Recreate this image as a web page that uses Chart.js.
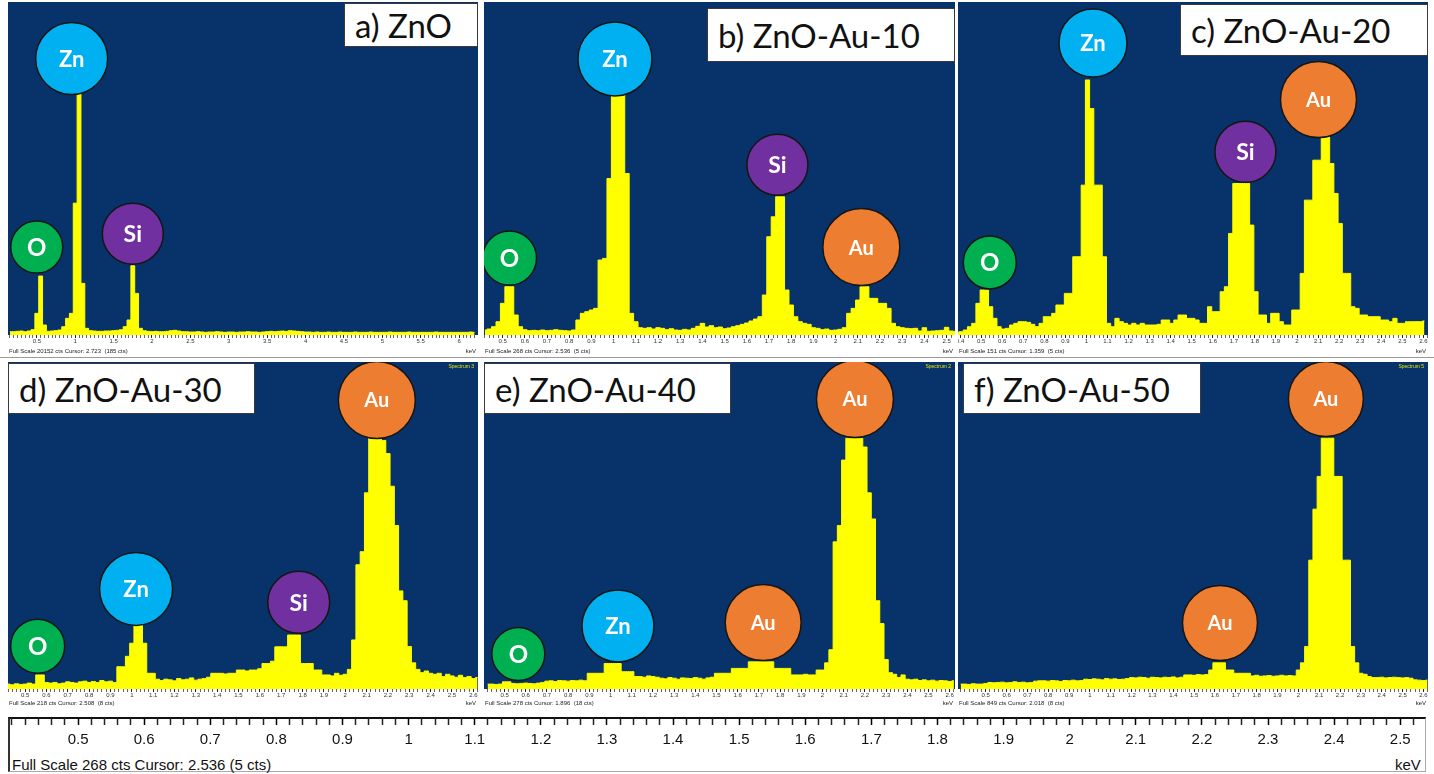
<!DOCTYPE html>
<html>
<head>
<meta charset="utf-8">
<title>EDS spectra of ZnO and ZnO-Au samples</title>
<script src="https://cdn.jsdelivr.net/npm/chart.js@4.4.1/dist/chart.umd.min.js"></script>
<style>
  html, body { margin: 0; padding: 0; background: #fff; }
  #stage { position: relative; width: 1434px; height: 774px; overflow: hidden; background: #fff;
           font-family: "Liberation Sans", Arial, sans-serif; }
  #stage canvas { position: absolute; }
  .title { position: absolute; background: #fff; border: 1px solid #3a3a3a; box-sizing: border-box;
           font-family: Lato, "Open Sans", sans-serif; font-size: 33px; color: #111;
           display: flex; align-items: center; padding-left: 10px; white-space: nowrap; }
  .rule { position: absolute; left: 0; width: 1434px; height: 1px; background: #9a9a9a; }
  .strip { position: absolute; left: 8px; top: 717px; width: 1418px; height: 55px; box-sizing: border-box;
           border-top: 2px solid #111; border-left: 2px solid #333; border-right: 1px solid #aaa; border-bottom: 1px solid #aaa; }
  .stripText { position: absolute; font-size: 15px; color: #111; line-height: 1; }
</style>
</head>
<body>
<div id="stage">
  <div class="rule" style="top:357px"></div>
  <div class="strip"></div>
</div>
<script>
// ---- Spectrum data: counts as % of full scale, one value per energy channel ----

// a) ZnO : channels of 0.05 keV, first channel centred at 0.15 keV
const aStart = 0.15, aStep = 0.05;
const aCounts = [
  1.0, 1.0, 1.1, 1.2, 1.0, 1.2, 1.6, 6.5, 17.7, 3.0,
  1.1, 1.2, 1.3, 1.5, 2.5, 5.0, 6.5, 39.6, 72.3, 15.5,
  2.0, 1.3, 1.2, 1.1, 1.1, 1.2, 1.2, 1.3, 1.4, 1.6,
  2.5, 4.5, 20.8, 12.5, 2.0, 1.3, 1.1, 1.0, 1.1, 1.0,
  1.0, 1.1, 1.3, 1.4, 1.2, 1.0, 1.0, 0.9,
  0.9, 1.0, 0.9, 0.8, 0.9, 0.9, 1.0, 0.9, 0.8, 0.9,
  0.9, 0.8, 0.9, 0.9, 1.0, 0.9, 0.9, 0.8, 0.9, 1.0,
  1.1, 1.0, 1.1, 1.2, 1.1, 1.3, 1.2, 1.1, 1.0, 0.9,
  0.9, 0.8, 0.9, 0.8, 0.8, 0.9, 0.8, 0.8, 0.9, 0.8,
  0.8, 0.8, 0.9, 0.8, 0.8, 0.8, 0.9, 0.8, 0.8, 0.8,
  0.8, 0.9, 0.8, 0.8, 0.8, 0.8, 0.9, 0.8, 0.8, 0.8,
  0.8, 0.8, 0.8, 0.9, 0.8, 0.8, 0.8, 0.8, 0.8, 0.8,
  0.8, 0.8, 0.9, 0.8
];

// b) ZnO-Au-10 : channels of 0.02 keV from 0.42 keV
const bStart = 0.42, bStep = 0.02;
const bCounts = [
  1.5, 1.8, 2.5, 4, 9.5, 14.5, 14.5, 6, 2.5, 1.6,
  1.3, 1.4, 1.3, 1.5, 1.3, 1.4, 1.6, 1.4, 1.3, 1.2,
  1.5, 4.5, 6.5, 7, 7.5, 8, 22.5, 23, 47, 72.6,
  72.6, 72.6, 48.5, 6.5, 4, 2.2, 2, 2.2, 1.8, 2.2,
  2, 1.6, 1.9, 1.5, 1.4, 1.7, 1.5, 2, 2.6, 3.5,
  2.4, 2.8, 2.2, 2.4, 1.9, 2.1, 2.5, 2.8, 3.2, 3.6,
  4.2, 4.8, 5.5, 12, 29.5, 35.5, 41.5, 41.5, 13.5, 9,
  5.5, 4, 3.5, 3.2, 2.2, 2, 1.6, 1.8, 1.4, 1.5,
  1.7, 2.2, 6.5, 8, 10.5, 14.5, 14.5, 11, 11, 9.5,
  9.5, 8, 3.5, 2.5, 2.2, 2, 1.9, 2, 1.2, 2.2,
  1.1, 1.2, 1.3, 1.4, 2.3, 1.2, 1.1
];

// c) ZnO-Au-20 : channels of 0.02 keV from 0.385 keV
const cStart = 0.385, cStep = 0.02;
const cCounts = [
  0.8, 1, 1.5, 2.5, 3.5, 9.5, 13.5, 13.5, 8.5, 5,
  2.5, 1.8, 2, 3, 3.5, 4, 4, 3.8, 3.2, 2.5,
  3.5, 5.5, 5.5, 6.5, 9, 9, 12.5, 12.5, 23.5, 23.5,
  45, 76.6, 68, 45, 45, 23.5, 3.5, 2.5, 5, 4,
  3.5, 3, 3.5, 3, 3.5, 3, 3, 3, 3.2, 4.5,
  4.5, 3.5, 4.5, 6, 6, 5, 5, 4.5, 3.5, 3.5,
  8.5, 7, 7, 13, 14.5, 30.5, 45.5, 45.5, 45.5, 45.5,
  33, 13, 6, 6, 3.5, 6.5, 6.5, 4, 3, 3,
  7.5, 7.5, 18.5, 40.5, 40.5, 52.5, 52.5, 59.4, 59.4, 51.5,
  42.5, 33.5, 18.5, 18.5, 8.5, 8, 6, 6, 5.5, 5.5,
  5.5, 4.5, 4.5, 4, 5, 3.5, 3.5, 4, 4, 4,
  4, 4.2
];

// d) ZnO-Au-30 : channels of 0.02 keV from 0.42 keV
const dStart = 0.42, dStep = 0.02;
const dCounts = [
  1.5, 1.3, 1.6, 1.4, 1.5, 1.8, 1.5, 4.3, 4.3, 2.0,
  1.8, 2.0, 1.6, 1.8, 2.2, 2.0, 1.8, 2.2, 2.4, 2.0,
  2.3, 2.0, 2.6, 2.2, 2.4, 2.0, 6.8, 6.8, 10, 14,
  19.6, 19.6, 14, 4.8, 4.8, 3.0, 2.6, 3.0, 2.8, 2.5,
  3.2, 2.8, 3.0, 3.4, 2.7, 3.0, 3.2, 3.6, 4.8, 4.8,
  4.8, 4.6, 4.8, 4.8, 5.8, 5.8, 5.5, 5.8, 5.8, 6.2,
  7.8, 7.8, 8.5, 12.9, 12.9, 12.9, 16.5, 16.5, 16.5, 7.8,
  7.8, 7.8, 5.8, 5.8, 4.3, 4.3, 4.0, 4.8, 4.2, 4.5,
  6, 15, 38, 42, 60, 76.7, 76.7, 76.7, 76, 72,
  62, 50, 30, 27, 13, 8, 6, 5, 5.5, 4.8,
  4.5, 4.8, 3.8, 4.5, 4.0, 3.6, 4.2, 3.5, 3.8, 3.2,
  3.5
];

// e) ZnO-Au-40 : channels of 0.02 keV from 0.42 keV
const eStart = 0.42, eStep = 0.02;
const eCounts = [
  1.5, 1.5, 1.4, 1.5, 2.2, 2.2, 1.7, 1.6, 1.7, 1.8,
  1.7, 1.6, 1.8, 2.0, 2.4, 2.5, 2.3, 2.6, 2.5, 2.4,
  2.6, 2.5, 2.7, 2.5, 4.8, 4.8, 4.8, 4.8, 7.8, 7.8,
  7.8, 7.8, 5.3, 5.3, 5.3, 3.8, 3.8, 3.6, 4.0, 3.8,
  3.6, 3.3, 3.1, 3.5, 3.3, 3.0, 3.4, 3.3, 3.2, 3.5,
  3.3, 3.0, 3.4, 3.6, 4.8, 4.8, 4.8, 4.8, 6.3, 6.3,
  6.3, 6.3, 8.3, 8.3, 8.3, 8.3, 8.3, 8.3, 6.3, 6.3,
  6.3, 6.3, 4.3, 4.3, 4.3, 4.5, 4.3, 4.3, 5.8, 5.8,
  8, 12, 45, 50, 70, 76.7, 76.7, 76.7, 76.7, 74,
  60, 52, 27, 20, 9, 5, 4.5, 3.5, 4.3, 3.0,
  2.8, 3.0, 2.6, 2.8, 2.5, 2.7, 2.4, 2.6, 2.5, 2.3,
  2.5
];

// f) ZnO-Au-50 : channels of 0.02 keV from 0.38 keV
const fStart = 0.38, fStep = 0.02;
const fCounts = [
  1.5, 1.5, 1.4, 1.6, 1.5, 1.5, 1.7, 2.0, 1.9, 2.0,
  2.1, 1.9, 2.0, 2.2, 2.0, 2.1, 1.9, 2.0, 2.4, 2.5,
  2.5, 2.4, 2.6, 2.5, 2.3, 2.6, 2.5, 2.7, 2.5, 2.6,
  3.0, 2.9, 3.1, 3.0, 2.8, 3.2, 3.0, 3.1, 2.9, 3.0,
  3.2, 3.5, 3.4, 3.6, 3.5, 3.3, 3.6, 3.5, 3.4, 3.6,
  3.5, 3.7, 3.4, 3.6, 4.3, 4.3, 4.2, 4.4, 4.3, 4.4,
  5.8, 8, 8, 8, 5.8, 5.8, 4.8, 4.8, 4.8, 4.8,
  4.0, 4.2, 3.9, 4.0, 4.1, 3.9, 4.0, 4.2, 4.0, 4.1,
  4.0, 5.8, 8, 13, 39.4, 55, 65, 76.7, 76.7, 76.7,
  65, 65, 39.4, 39.4, 13, 8, 4.8, 4.5, 3.8, 3.5,
  3.5, 3.6, 3.4, 3.5, 3.6, 3.5, 3.4, 3.5, 3.3, 2.8,
  2.7, 2.6, 2.7
];

// ---- Peak identification tags: element, energy (keV), height (% of full scale) ----
const aTags = ['O', 'Zn', 'Si'];        const aTagE = [0.499, 0.954, 1.750];        const aTagC = [26.4, 83.0, 30.4];
const bTags = ['O', 'Zn', 'Si', 'Au'];  const bTagE = [0.531, 1.006, 1.738, 2.116]; const bTagC = [23.1, 82.9, 51.1, 26.4];
const cTags = ['O', 'Zn', 'Si', 'Au'];  const cTagE = [0.541, 1.031, 1.755, 2.102]; const cTagC = [21.8, 87.7, 55.0, 70.7];
const dTags = ['O', 'Zn', 'Si', 'Au'];  const dTagE = [0.559, 1.020, 1.782, 2.148]; const dTagC = [13.1, 30.6, 26.5, 88.4];
const eTags = ['O', 'Zn', 'Au', 'Au'];  const eTagE = [0.565, 1.035, 1.720, 2.153]; const eTagC = [10.7, 19.3, 20.3, 88.7];
const fTags = ['Au', 'Au'];             const fTagE = [1.624, 2.132];               const fTagC = [20.2, 88.7];

// ---- Axis tick labels (keV) ----
const aTickLabels = [0.5, 1, 1.5, 2, 2.5, 3, 3.5, 4, 4.5, 5, 5.5, 6];
const bTickLabels = [0.5, 0.6, 0.7, 0.8, 0.9, 1, 1.1, 1.2, 1.3, 1.4, 1.5, 1.6, 1.7, 1.8, 1.9, 2, 2.1, 2.2, 2.3, 2.4, 2.5];
const wideTickLabels = [0.4, 0.5, 0.6, 0.7, 0.8, 0.9, 1, 1.1, 1.2, 1.3, 1.4, 1.5, 1.6, 1.7, 1.8, 1.9, 2, 2.1, 2.2, 2.3, 2.4, 2.5, 2.6];
const fTickLabels = [0.5, 0.6, 0.7, 0.8, 0.9, 1, 1.1, 1.2, 1.3, 1.4, 1.5, 1.6, 1.7, 1.8, 1.9, 2, 2.1, 2.2, 2.3, 2.4, 2.5, 2.6];
const stripTickLabels = [0.5, 0.6, 0.7, 0.8, 0.9, 1, 1.1, 1.2, 1.3, 1.4, 1.5, 1.6, 1.7, 1.8, 1.9, 2, 2.1, 2.2, 2.3, 2.4, 2.5];

// ---- Panel texts ----
const titles = ['a) ZnO', 'b) ZnO-Au-10', 'c) ZnO-Au-20', 'd) ZnO-Au-30', 'e) ZnO-Au-40', 'f) ZnO-Au-50'];
const footers = [
  'Full Scale 20152 cts Cursor: 2.723  (185 cts)',
  'Full Scale 268 cts Cursor: 2.536  (5 cts)',
  'Full Scale 151 cts Cursor: 1.359  (5 cts)',
  'Full Scale 218 cts Cursor: 2.508  (8 cts)',
  'Full Scale 278 cts Cursor: 1.896  (18 cts)',
  'Full Scale 849 cts Cursor: 2.018  (8 cts)'
];
const spectrumNames = ['', '', '', 'Spectrum 3', 'Spectrum 2', 'Spectrum 5'];
const stripFooter = 'Full Scale 268 cts Cursor: 2.536  (5 cts)';

// ---- Styling ----
const NAVY = '#08336a';
const YELLOW = '#ffff00';
const TAG_COLORS = { O: '#00b050', Zn: '#00b0f0', Si: '#7030a0', Au: '#ed7d31' };
const TAG_FONT = { O: 24, Zn: 22, Si: 23, Au: 20 };
Chart.defaults.font.family = '"Liberation Sans", Arial, sans-serif';

function tickGrid(min, max, step) {
  const out = [];
  for (let k = Math.ceil(min / step - 1e-9); k * step <= max + 1e-9; k++) out.push(+(k * step).toFixed(4));
  return out;
}
const hasLabel = (list, v) => list.some(l => Math.abs(l - v) < 1e-6);

// Navy plotting field behind the spectrum
const fieldPlugin = {
  id: 'field',
  beforeDraw(chart) {
    const a = chart.chartArea, ctx = chart.ctx;
    ctx.save();
    ctx.fillStyle = NAVY;
    ctx.fillRect(a.left, a.top, a.right - a.left, a.bottom - a.top);
    ctx.restore();
  }
};

// Element symbols written inside the tag circles
const tagTextPlugin = {
  id: 'tagText',
  afterDatasetsDraw(chart) {
    const ds = chart.data.datasets[0];
    if (!ds || !ds.tagNames) return;
    const meta = chart.getDatasetMeta(0), ctx = chart.ctx;
    ctx.save();
    ctx.fillStyle = '#ffffff';
    ctx.textAlign = 'center';
    ctx.textBaseline = 'middle';
    meta.data.forEach((pt, i) => {
      const name = ds.tagNames[i];
      ctx.font = 'bold ' + TAG_FONT[name] + 'px Lato, "Open Sans", sans-serif';
      ctx.fillText(name, pt.x, pt.y + 1);
    });
    ctx.restore();
  }
};

// Acquisition line and unit under each spectrum
const footerPlugin = {
  id: 'footer',
  afterDraw(chart, args, opts) {
    if (!opts || !opts.text) return;
    const ctx = chart.ctx;
    ctx.save();
    ctx.font = opts.size + 'px "Liberation Sans", Arial, sans-serif';
    ctx.fillStyle = opts.color || '#222';
    ctx.textBaseline = 'middle';
    ctx.textAlign = 'left';
    ctx.fillText(opts.text, opts.x || 1, chart.height - opts.dy);
    ctx.textAlign = 'right';
    ctx.fillText('keV', chart.width - 2, chart.height - opts.dy);
    if (opts.spectrum) {
      ctx.font = '5px "Liberation Sans", Arial, sans-serif';
      ctx.fillStyle = '#e6e600';
      ctx.textBaseline = 'top';
      ctx.fillText(opts.spectrum, chart.width - 4, 2);
    }
    ctx.restore();
  }
};

const stage = document.getElementById('stage');

function addCanvas(left, top, width, height) {
  const cv = document.createElement('canvas');
  cv.width = width; cv.height = height;
  cv.style.left = left + 'px'; cv.style.top = top + 'px';
  cv.style.width = width + 'px'; cv.style.height = height + 'px';
  stage.appendChild(cv);
  return cv;
}

function makePanel(p) {
  const total = p.plotH + p.axisH + p.footH;
  const cv = addCanvas(p.left, p.top, p.width, total);
  const ticks = tickGrid(p.min, p.max, p.minor);
  const spectrum = p.counts.map((c, i) => ({ x: +(p.start + i * p.step).toFixed(4), y: c }));
  const tagPts = p.tagE.map((e, i) => ({ x: e, y: p.tagC[i] }));

  new Chart(cv, {
    type: 'line',
    data: {
      datasets: [
        {
          data: tagPts,
          tagNames: p.tags,
          showLine: false,
          pointRadius: p.radii,
          pointHoverRadius: p.radii,
          pointBackgroundColor: p.tags.map(t => TAG_COLORS[t]),
          pointBorderColor: '#151515',
          pointBorderWidth: 1.5,
          clip: false,
          order: 0
        },
        {
          data: spectrum,
          stepped: 'middle',
          fill: 'origin',
          backgroundColor: YELLOW,
          borderColor: YELLOW,
          borderWidth: 1,
          pointRadius: 0,
          order: 1
        }
      ]
    },
    options: {
      responsive: false,
      animation: false,
      devicePixelRatio: 1,
      events: [],
      layout: { autoPadding: false, padding: { left: 0, right: 0, top: 0, bottom: p.footH } },
      plugins: {
        legend: { display: false },
        tooltip: { enabled: false },
        footer: { text: p.footer, size: 6, dy: 5, spectrum: p.spectrumName }
      },
      scales: {
        x: {
          type: 'linear',
          position: 'bottom',
          min: p.min,
          max: p.max,
          afterBuildTicks: s => { s.ticks = ticks.map(v => ({ value: v })); },
          afterFit: s => { s.height = p.axisH; s.paddingLeft = 0; s.paddingRight = 0; },
          border: { display: false },
          grid: {
            drawOnChartArea: false,
            drawTicks: true,
            tickLength: 3,
            tickColor: c => (c.tick && hasLabel(p.labels, c.tick.value)) ? '#222' : '#666',
            tickWidth: 1
          },
          ticks: {
            autoSkip: false,
            maxRotation: 0,
            minRotation: 0,
            padding: 0,
            color: '#333',
            font: { size: 6 },
            callback: v => hasLabel(p.labels, v) ? String(+v.toFixed(2)) : ''
          }
        },
        y: { display: false, min: 0, max: 100 }
      }
    },
    plugins: [fieldPlugin, tagTextPlugin, footerPlugin]
  });
}

const ROW1 = { top: 2, plotH: 333, axisH: 10, footH: 11 };
const ROW2 = { top: 362, plotH: 327, axisH: 9, footH: 10 };

const panels = [
  Object.assign({ left: 8,   width: 470, min: 0.125, max: 6.245, start: aStart, step: aStep, counts: aCounts, minor: 0.05,
    labels: aTickLabels, tags: aTags, tagE: aTagE, tagC: aTagC, radii: [26, 36, 30.5] }, ROW1),
  Object.assign({ left: 484, width: 471, min: 0.416, max: 2.538, start: bStart, step: bStep, counts: bCounts, minor: 0.02,
    labels: bTickLabels, tags: bTags, tagE: bTagE, tagC: bTagC, radii: [27, 37, 30.5, 38.5] }, ROW1),
  Object.assign({ left: 958, width: 470, min: 0.390, max: 2.622, start: cStart, step: cStep, counts: cCounts, minor: 0.02,
    labels: wideTickLabels, tags: cTags, tagE: cTagE, tagC: cTagC, radii: [26.5, 34, 30.5, 38] }, ROW1),
  Object.assign({ left: 8,   width: 470, min: 0.420, max: 2.622, start: dStart, step: dStep, counts: dCounts, minor: 0.02,
    labels: wideTickLabels, tags: dTags, tagE: dTagE, tagC: dTagC, radii: [27, 36.5, 31, 38.5] }, ROW2),
  Object.assign({ left: 484, width: 471, min: 0.403, max: 2.625, start: eStart, step: eStep, counts: eCounts, minor: 0.02,
    labels: wideTickLabels, tags: eTags, tagE: eTagE, tagC: eTagC, radii: [26.5, 36, 38, 38.5] }, ROW2),
  Object.assign({ left: 958, width: 470, min: 0.367, max: 2.622, start: fStart, step: fStep, counts: fCounts, minor: 0.02,
    labels: fTickLabels, tags: fTags, tagE: fTagE, tagC: fTagC, radii: [37.5, 37.5] }, ROW2)
];
panels.forEach((p, i) => { p.footer = footers[i]; p.spectrumName = spectrumNames[i]; makePanel(p); });

// Sample name boxes
const titleBoxes = [
  { left: 344, top: 3,   width: 134, height: 44 },
  { left: 707, top: 8,   width: 248, height: 54 },
  { left: 1180, top: 4,  width: 248, height: 52 },
  { left: 8,   top: 363, width: 247, height: 51 },
  { left: 484, top: 363, width: 247, height: 51 },
  { left: 963, top: 363, width: 238, height: 51 }
];
titleBoxes.forEach((b, i) => {
  const d = document.createElement('div');
  d.className = 'title';
  d.style.left = b.left + 'px'; d.style.top = b.top + 'px';
  d.style.width = b.width + 'px'; d.style.height = b.height + 'px';
  d.textContent = titles[i];
  stage.appendChild(d);
});

// Shared energy scale strip along the bottom
(function () {
  const min = 0.394, max = 2.539;
  const cv = addCanvas(8, 706, 1418, 44);
  const ticks = tickGrid(min, max, 0.02);
  new Chart(cv, {
    type: 'line',
    data: { datasets: [{ data: [], pointRadius: 0, borderWidth: 0 }] },
    options: {
      responsive: false,
      animation: false,
      devicePixelRatio: 1,
      events: [],
      layout: { autoPadding: false, padding: 0 },
      plugins: { legend: { display: false }, tooltip: { enabled: false } },
      scales: {
        x: {
          type: 'linear', position: 'bottom', min: min, max: max,
          afterBuildTicks: s => { s.ticks = ticks.map(v => ({ value: v })); },
          afterFit: s => { s.height = 32; s.paddingLeft = 0; s.paddingRight = 0; },
          border: { display: false },
          grid: {
            display: true,
            drawOnChartArea: false,
            drawTicks: true,
            tickLength: 7,
            color: '#111',
            lineWidth: 1,
            tickColor: c => (c.tick && hasLabel(stripTickLabels, c.tick.value)) ? '#000' : '#222',
            tickWidth: 1.5
          },
          ticks: {
            autoSkip: false, maxRotation: 0, minRotation: 0, padding: 6,
            color: '#111', font: { size: 15 },
            callback: v => hasLabel(stripTickLabels, v) ? String(+v.toFixed(2)) : ''
          }
        },
        y: { display: false, min: 0, max: 1 }
      }
    }
  });
  const foot = document.createElement('div');
  foot.className = 'stripText';
  foot.style.left = '12px'; foot.style.top = '757px';
  foot.textContent = stripFooter;
  stage.appendChild(foot);
  const unit = document.createElement('div');
  unit.className = 'stripText';
  unit.style.left = '1395px'; unit.style.top = '757px';
  unit.textContent = 'keV';
  stage.appendChild(unit);
})();
</script>
</body>
</html>
